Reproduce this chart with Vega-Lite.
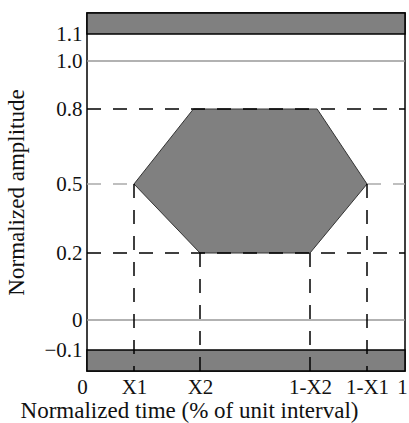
{
  "$schema": "https://vega.github.io/schema/vega-lite/v6.json",
  "width": 318,
  "height": 358,
  "autosize": {"type": "none"},
  "padding": {"left": 87, "top": 13, "right": 4, "bottom": 52},
  "background": "white",
  "config": {
    "view": {"stroke": "black", "strokeWidth": 1.5},
    "font": "Liberation Serif",
    "axis": {"grid": false, "domain": false, "ticks": false, "labelFont": "Liberation Serif", "titleFont": "Liberation Serif", "labelColor": "#111", "titleColor": "#111", "titleFontWeight": "normal", "labelFontSize": 21, "titleFontSize": 23}
  },
  "datasets": {
    "bands": [
      {"x": 0, "x2": 1, "y": 1.1, "y2": 1.2},
      {"x": 0, "x2": 1, "y": -0.2, "y2": -0.1}
    ],
    "hexagon": [
      {"x": 0.15, "y": 0.5, "o": 1},
      {"x": 0.33, "y": 0.8, "o": 2},
      {"x": 0.675, "y": 0.8, "o": 3},
      {"x": 0.85, "y": 0.5, "o": 4},
      {"x": 0.65, "y": 0.2, "o": 5},
      {"x": 0.35, "y": 0.2, "o": 6},
      {"x": 0.15, "y": 0.5, "o": 7}
    ],
    "solid": [
      {"x": 0, "x2": 1, "y": 1.0},
      {"x": 0, "x2": 1, "y": 0}
    ],
    "hdash": [
      {"x": 0, "x2": 1, "y": 0.8},
      {"x": 0, "x2": 1, "y": 0.2}
    ],
    "mid": [
      {"x": 0, "x2": 0.15, "y": 0.5},
      {"x": 0.85, "x2": 1, "y": 0.5}
    ],
    "vdash": [
      {"x": 0.15, "y": 0.5, "y2": -0.2},
      {"x": 0.35, "y": 0.2, "y2": -0.2},
      {"x": 0.65, "y": 0.2, "y2": -0.2},
      {"x": 0.85, "y": 0.5, "y2": -0.2}
    ]
  },
  "encoding": {
    "x": {
      "field": "x", "type": "quantitative",
      "scale": {"domain": [0, 0.15, 0.35, 0.65, 0.85, 1], "range": [0, 47, 113, 223, 280, 318], "nice": false, "zero": false},
      "axis": {
        "title": "Normalized time (% of unit interval)",
        "values": [0, 0.15, 0.35, 0.65, 0.85, 1],
        "labelExpr": "datum.value == 0 ? '0' : datum.value == 0.15 ? 'X1' : datum.value == 0.35 ? 'X2' : datum.value == 0.65 ? '1-X2' : datum.value == 0.85 ? '1-X1' : '1'",
        "labelOffset": {"expr": "datum.value == 0 ? -5 : datum.value == 1 ? -3 : 0"},
        "labelPadding": 5,
        "titlePadding": 2,
        "titleX": 102,
        "labelOverlap": false,
        "labelFlush": false
      }
    },
    "y": {
      "field": "y", "type": "quantitative",
      "scale": {"domain": [-0.2, -0.1, 0, 0.2, 0.5, 0.8, 1.0, 1.1, 1.2], "range": [358, 337, 307, 240, 171, 96, 48, 21, 0], "nice": false, "zero": false},
      "axis": {
        "title": "Normalized amplitude",
        "values": [-0.1, 0, 0.2, 0.5, 0.8, 1.0, 1.1],
        "labelExpr": "datum.value < -0.05 ? '\u22120.1' : datum.value == 0 ? '0' : format(datum.value, '.1f')",
        "labelPadding": 5,
        "titlePadding": 15,
        "labelOverlap": false,
        "labelFlush": false
      }
    }
  },
  "layer": [
    {
      "data": {"name": "bands"},
      "mark": {"type": "rect", "fill": "#808080", "stroke": "black", "strokeWidth": 1.5},
      "encoding": {"x2": {"field": "x2"}, "y2": {"field": "y2"}}
    },
    {
      "data": {"name": "solid"},
      "mark": {"type": "rule", "stroke": "#999999", "strokeWidth": 1.5},
      "encoding": {"x2": {"field": "x2"}}
    },
    {
      "data": {"name": "hexagon"},
      "mark": {"type": "line", "fill": "#808080", "stroke": "#333333", "strokeWidth": 1},
      "encoding": {"order": {"field": "o", "type": "quantitative"}}
    },
    {
      "data": {"name": "hdash"},
      "mark": {"type": "rule", "stroke": "black", "strokeWidth": 1.5, "strokeDash": [14, 12]},
      "encoding": {"x2": {"field": "x2"}}
    },
    {
      "data": {"name": "mid"},
      "mark": {"type": "rule", "stroke": "#aaaaaa", "strokeWidth": 1.5, "strokeDash": [14, 12]},
      "encoding": {"x2": {"field": "x2"}}
    },
    {
      "data": {"name": "vdash"},
      "mark": {"type": "rule", "stroke": "black", "strokeWidth": 1.5, "strokeDash": [14, 12]},
      "encoding": {"y2": {"field": "y2"}}
    }
  ]
}
